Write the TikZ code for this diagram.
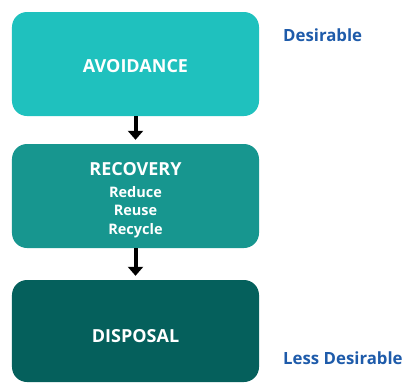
\documentclass[tikz,border=0pt]{standalone}
\usepackage{fontspec}
\setmainfont{Open Sans}
\usetikzlibrary{arrows.meta}
\definecolor{cA}{HTML}{1FC1BE}
\definecolor{cB}{HTML}{17968F}
\definecolor{cC}{HTML}{05605C}
\definecolor{lblue}{HTML}{1E5BAA}
\tikzset{
  box/.style={rounded corners=15bp, minimum width=247bp, minimum height=104bp, inner sep=0pt, text=white, align=center,
    font=\bfseries\fontsize{18bp}{21bp}\selectfont},
  conn/.style={line width=4bp, -{Triangle[width=15bp,length=9bp]}, shorten >=4bp},
  side/.style={text=lblue, font=\bfseries\fontsize{16.8bp}{19bp}\selectfont, anchor=base west, inner sep=0pt}
}
\begin{document}
\begin{tikzpicture}[x=1bp,y=-1bp]
\useasboundingbox (0,0) rectangle (404,383);
\node[box, fill=cA, text height=16bp, text depth=0bp] (avoid) at (135.5,64) {AVOIDANCE};
\node[box, fill=cB, text height=79.5bp, font=\bfseries\fontsize{14.5bp}{18.5bp}\selectfont] (recov) at (135.5,196)
  {{\fontsize{18bp}{21bp}\selectfont RECOVERY}\\[3.5bp] Reduce\\ Reuse\\ Recycle};
\node[box, fill=cC, minimum height=102bp, text height=22bp, text depth=0bp] (disp) at (135.5,331) {DISPOSAL};
\draw[conn] (avoid.south) -- (recov.north);
\draw[conn] (recov.south) -- (disp.north);
\node[side] (des) at (283,41) {Desirable};
\node[side] (less) at (283,364) {Less Desirable};
\end{tikzpicture}
\end{document}
